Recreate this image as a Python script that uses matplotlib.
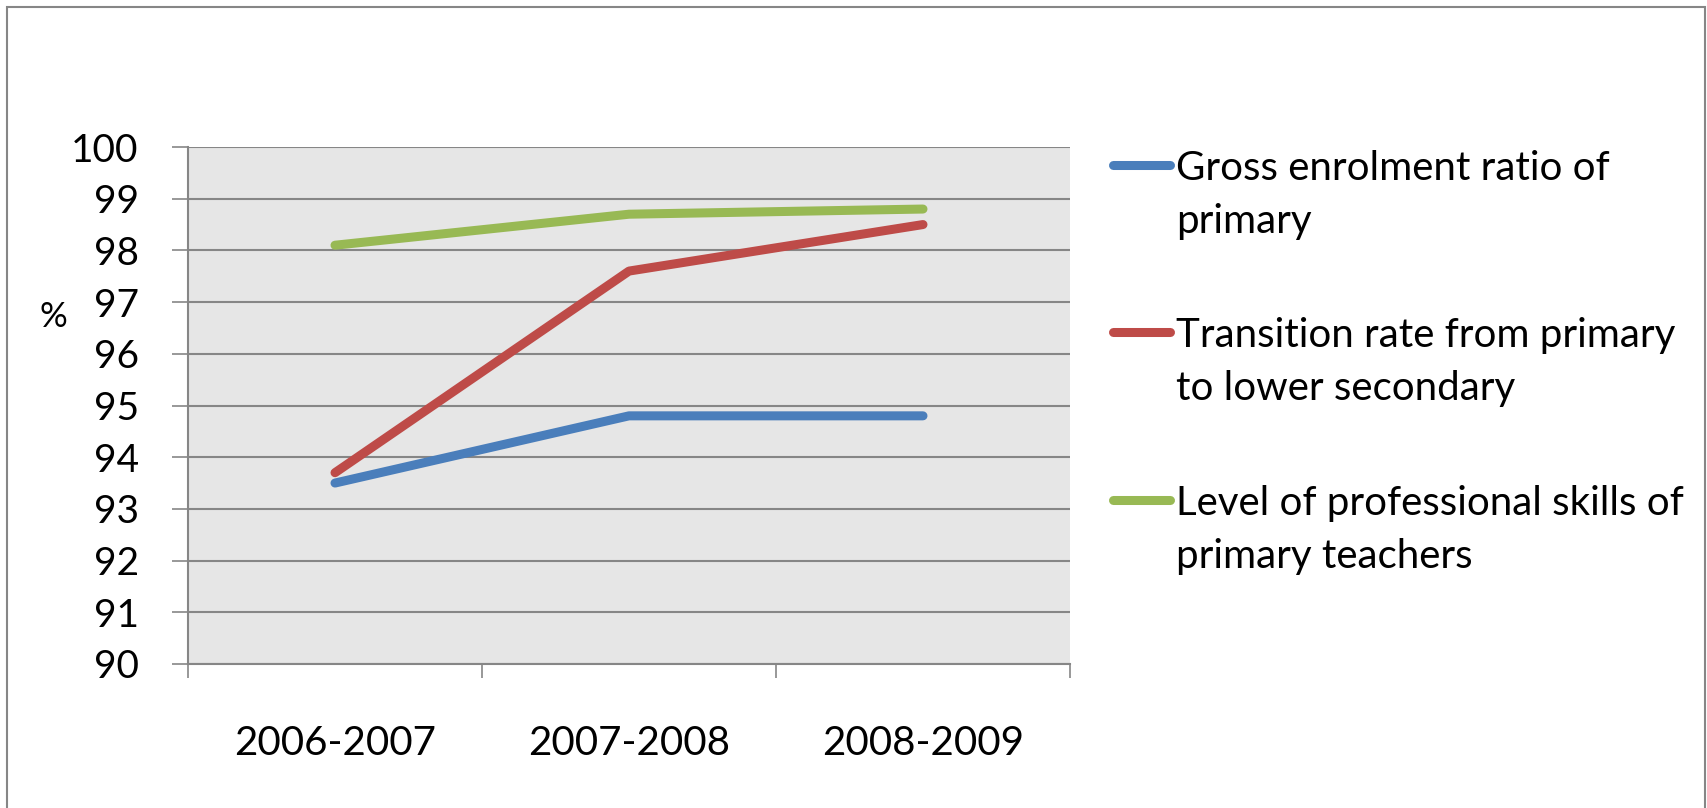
import matplotlib
matplotlib.use("Agg")
import matplotlib.pyplot as plt
from matplotlib.lines import Line2D
from matplotlib.patches import Rectangle

plt.rcParams['font.family'] = ['Lato', 'DejaVu Sans']

# data
years = ["2006-2007", "2007-2008", "2008-2009"]
gross_enrolment = [93.5, 94.8, 94.8]
transition_rate = [93.7, 97.6, 98.5]
teacher_skills = [98.1, 98.7, 98.8]
labels = [["Gross enrolment ratio of", "primary"],
          ["Transition rate from primary", "to lower secondary"],
          ["Level of professional skills of", "primary teachers"]]
colors = ["#4A7EBB", "#BE4B48", "#98B954"]

W, H = 1707, 808
fig = plt.figure(figsize=(W / 100, H / 100), dpi=100)
ax = fig.add_axes([188/W, 1-664/H, 882/W, 517/H])
ax.set_facecolor("#E6E6E6")

x = range(len(years))
for vals, c in zip([gross_enrolment, transition_rate, teacher_skills], colors):
    ax.plot(x, vals, color=c, lw=6.5, solid_capstyle="round")

ax.set_xlim(-0.5, 2.5)
ax.set_ylim(90, 100)
ax.set_yticks(range(90, 101))
ax.yaxis.grid(True, color="#868686", lw=1.5)
ax.set_axisbelow(True)

ax.set_xticks(list(x))
ax.set_xticklabels(years)
ax.set_xticks([-0.5, 0.5, 1.5, 2.5], minor=True)
ax.tick_params(axis="x", which="major", length=0, pad=44, labelsize=29)
ax.tick_params(axis="x", which="minor", length=10, width=1.2, color="#868686")
ax.tick_params(axis="y", length=11.5, width=1.2, color="#868686", pad=24, labelsize=28)

for s in ["top", "right"]:
    ax.spines[s].set_visible(False)
for s in ["left", "bottom"]:
    ax.spines[s].set_color("#868686")
    ax.spines[s].set_linewidth(1.5)

fig.text(53/W, 1-317/H, "%", fontsize=25, ha="center", va="center")

# legend, handle next to the first line of each entry
handle_y = [165, 332, 500]
for (l1, l2), c, hy in zip(labels, colors, handle_y):
    fig.add_artist(Line2D([1113/W, 1170/W], [1-hy/H, 1-hy/H], color=c, lw=6.5,
                          solid_capstyle="round", transform=fig.transFigure))
    fig.text(1176/W, 1-(hy+15)/H, l1, fontsize=29, va="baseline")
    fig.text(1176/W, 1-(hy+68)/H, l2, fontsize=29, va="baseline")

# outer chart border
fig.patches.append(Rectangle((7/W, -0.05), 1698/W, 1.05 - 7/H,
                             transform=fig.transFigure, fill=False,
                             edgecolor="#868686", lw=1.5))

fig.savefig("out.png", dpi=100)
